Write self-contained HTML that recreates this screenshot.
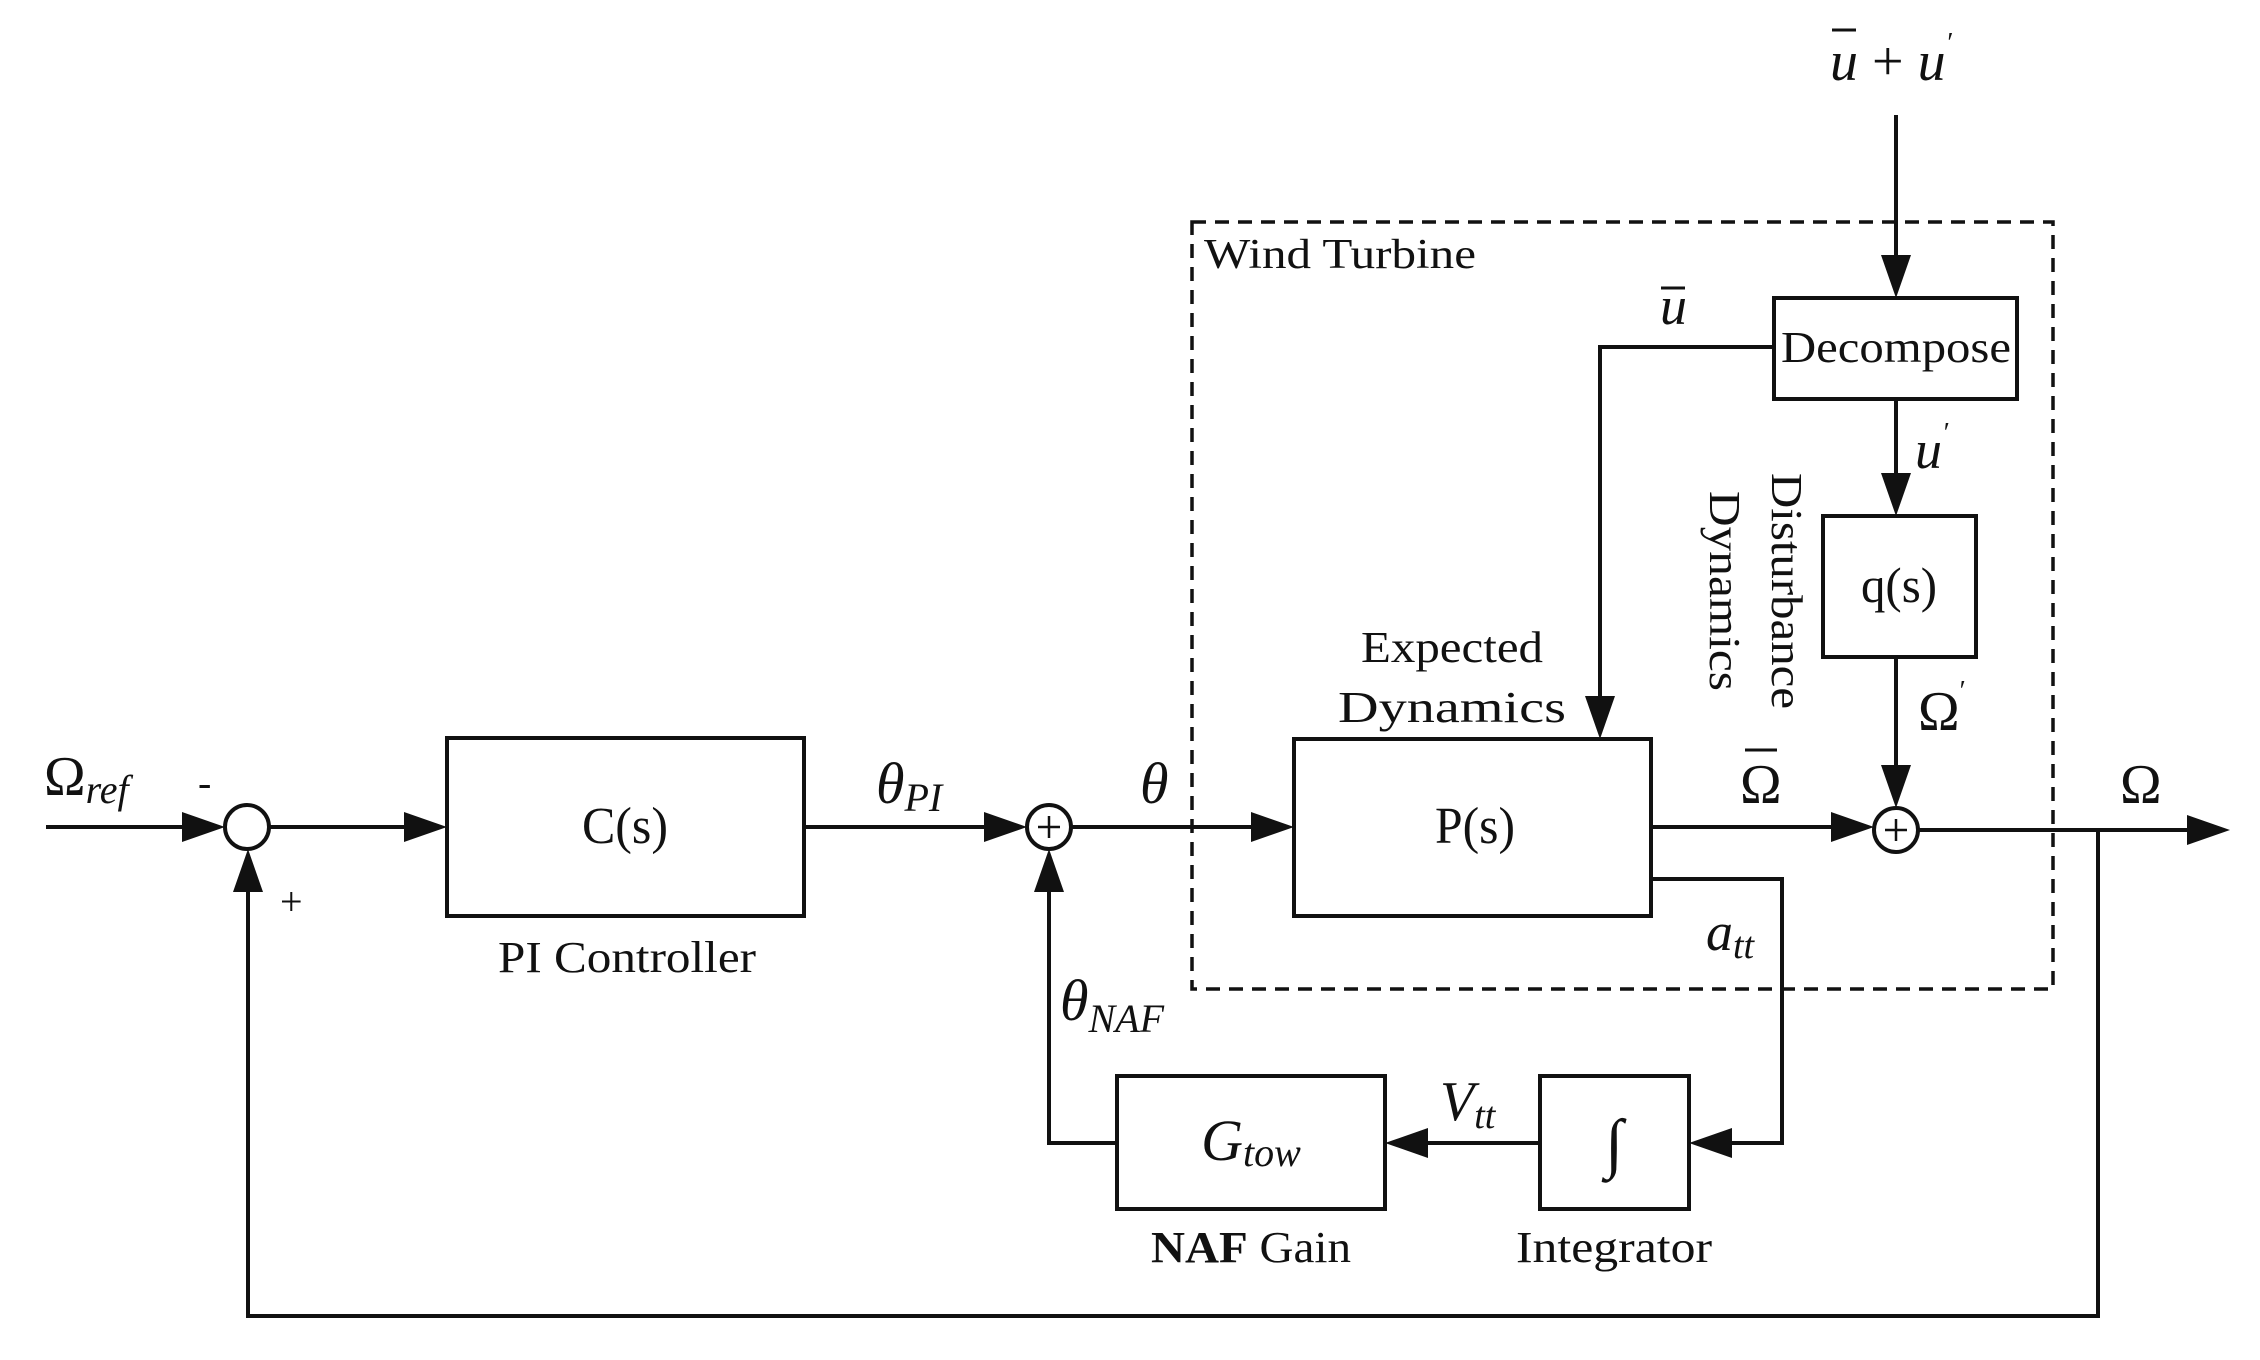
<!DOCTYPE html>
<html><head><meta charset="utf-8"><style>
html,body{margin:0;padding:0;background:#fff;}
svg{display:block;}
text{font-family:"Liberation Serif",serif;fill:#111;}
.it{font-style:italic;}
</style></head><body>
<svg width="2260" height="1360" viewBox="0 0 2260 1360" xmlns="http://www.w3.org/2000/svg">
<g stroke="#111" stroke-width="4" fill="none">
<rect x="1192" y="222" width="861" height="767" stroke-dasharray="14,9" stroke-width="3.5"/>
<rect x="447" y="738" width="357" height="178"/>
<rect x="1294" y="739" width="357" height="177"/>
<rect x="1774" y="298" width="243" height="101"/>
<rect x="1823" y="516" width="153" height="141"/>
<rect x="1117" y="1076" width="268" height="133"/>
<rect x="1540" y="1076" width="149" height="133"/>
<circle cx="247" cy="827" r="22"/>
<circle cx="1049" cy="827" r="22"/>
<circle cx="1896" cy="830" r="22"/>
<polyline points="46,827 200,827"/>
<polyline points="269,827 410,827"/>
<polyline points="804,827 1003,827"/>
<polyline points="1071,827 1257,827"/>
<polyline points="1651,827 1850,827"/>
<polyline points="1918,830 2190,830"/>
<polyline points="2098,830 2098,1316 248,1316 248,880"/>
<polyline points="1896,115 1896,260"/>
<polyline points="1774,347 1600,347 1600,702"/>
<polyline points="1896,399 1896,480"/>
<polyline points="1896,657 1896,792"/>
<polyline points="1651,879 1782,879 1782,1143 1725,1143"/>
<polyline points="1540,1143 1420,1143"/>
<polyline points="1117,1143 1049,1143 1049,885"/>
</g>
<g fill="#111">
<polygon points="225,827 182,812 182,842"/>
<polygon points="447,827 404,812 404,842"/>
<polygon points="1027,827 984,812 984,842"/>
<polygon points="1294,827 1251,812 1251,842"/>
<polygon points="1874,827 1831,812 1831,842"/>
<polygon points="2230,830 2187,815 2187,845"/>
<polygon points="248,849 233,892 263,892"/>
<polygon points="1049,849 1034,892 1064,892"/>
<polygon points="1896,298 1881,255 1911,255"/>
<polygon points="1600,739 1585,696 1615,696"/>
<polygon points="1896,516 1881,473 1911,473"/>
<polygon points="1896,808 1881,765 1911,765"/>
<polygon points="1689,1143 1732,1128 1732,1158"/>
<polygon points="1385,1143 1428,1128 1428,1158"/>
</g>
<g stroke="#111" stroke-width="2.5">
<line x1="1049" y1="816" x2="1049" y2="838"/><line x1="1038" y1="827" x2="1060" y2="827"/>
<line x1="1896" y1="819" x2="1896" y2="841"/><line x1="1885" y1="830" x2="1907" y2="830"/>
</g>
<text x="625" y="843" font-size="52" text-anchor="middle" textLength="86" lengthAdjust="spacingAndGlyphs">C(s)</text>
<text x="1475" y="843" font-size="52" text-anchor="middle" textLength="80" lengthAdjust="spacingAndGlyphs">P(s)</text>
<text x="1896" y="362" font-size="44" text-anchor="middle" textLength="230" lengthAdjust="spacingAndGlyphs">Decompose</text>
<text x="1899" y="602" font-size="50" text-anchor="middle" textLength="76" lengthAdjust="spacingAndGlyphs">q(s)</text>
<text x="627" y="972" font-size="44" text-anchor="middle" textLength="258" lengthAdjust="spacingAndGlyphs">PI Controller</text>
<text x="1340" y="268" font-size="42" text-anchor="middle" textLength="272" lengthAdjust="spacingAndGlyphs">Wind Turbine</text>
<text x="1452" y="662" font-size="44" text-anchor="middle" textLength="182" lengthAdjust="spacingAndGlyphs">Expected</text>
<text x="1452" y="722" font-size="44" text-anchor="middle" textLength="228" lengthAdjust="spacingAndGlyphs">Dynamics</text>
<text transform="translate(1772,591) rotate(90)" font-size="44" text-anchor="middle" textLength="236" lengthAdjust="spacingAndGlyphs">Disturbance</text>
<text transform="translate(1710,591) rotate(90)" font-size="44" text-anchor="middle" textLength="200" lengthAdjust="spacingAndGlyphs">Dynamics</text>
<text x="1614" y="1262" font-size="44" text-anchor="middle" textLength="196" lengthAdjust="spacingAndGlyphs">Integrator</text>
<text x="1251" y="1262" font-size="44" text-anchor="middle" textLength="200" lengthAdjust="spacingAndGlyphs"><tspan font-weight="bold">NAF</tspan> Gain</text>
<text x="1251" y="1160" font-size="58" class="it" text-anchor="middle">G<tspan font-size="40" dy="6">tow</tspan></text>
<text x="1614" y="1165" font-size="66" class="it" text-anchor="middle">∫</text>
<text x="44" y="795" font-size="56">Ω<tspan class="it" font-size="40" dy="8">ref</tspan></text>
<text x="198" y="796" font-size="40">-</text>
<text x="280" y="915" font-size="40">+</text>
<text x="876" y="803" font-size="58" class="it">θ<tspan font-size="40" dy="8">PI</tspan></text>
<text x="1140" y="803" font-size="58" class="it">θ</text>
<text x="1060" y="1020" font-size="58" class="it">θ<tspan font-size="40" dy="12">NAF</tspan></text>
<text x="1740" y="803" font-size="56">Ω</text>
<line x1="1745" y1="750" x2="1777" y2="750" stroke="#111" stroke-width="3"/>
<text x="2120" y="803" font-size="56">Ω</text>
<text x="1918" y="730" font-size="56">Ω<tspan font-size="28" dy="-30">′</tspan></text>
<text x="1915" y="468" font-size="54" class="it">u<tspan font-size="28" dy="-26">′</tspan></text>
<text x="1660" y="324" font-size="54" class="it">u</text>
<line x1="1661" y1="288" x2="1685" y2="288" stroke="#111" stroke-width="3"/>
<text x="1830" y="80" font-size="56" class="it">u <tspan font-style="normal">+</tspan> u<tspan font-size="28" dy="-28">′</tspan></text>
<line x1="1832" y1="30" x2="1856" y2="30" stroke="#111" stroke-width="3"/>
<text x="1706" y="950" font-size="54" class="it">a<tspan font-size="38" dy="8">tt</tspan></text>
<text x="1440" y="1120" font-size="56" class="it">V<tspan font-size="38" dy="8">tt</tspan></text>
</svg>
</body></html>
